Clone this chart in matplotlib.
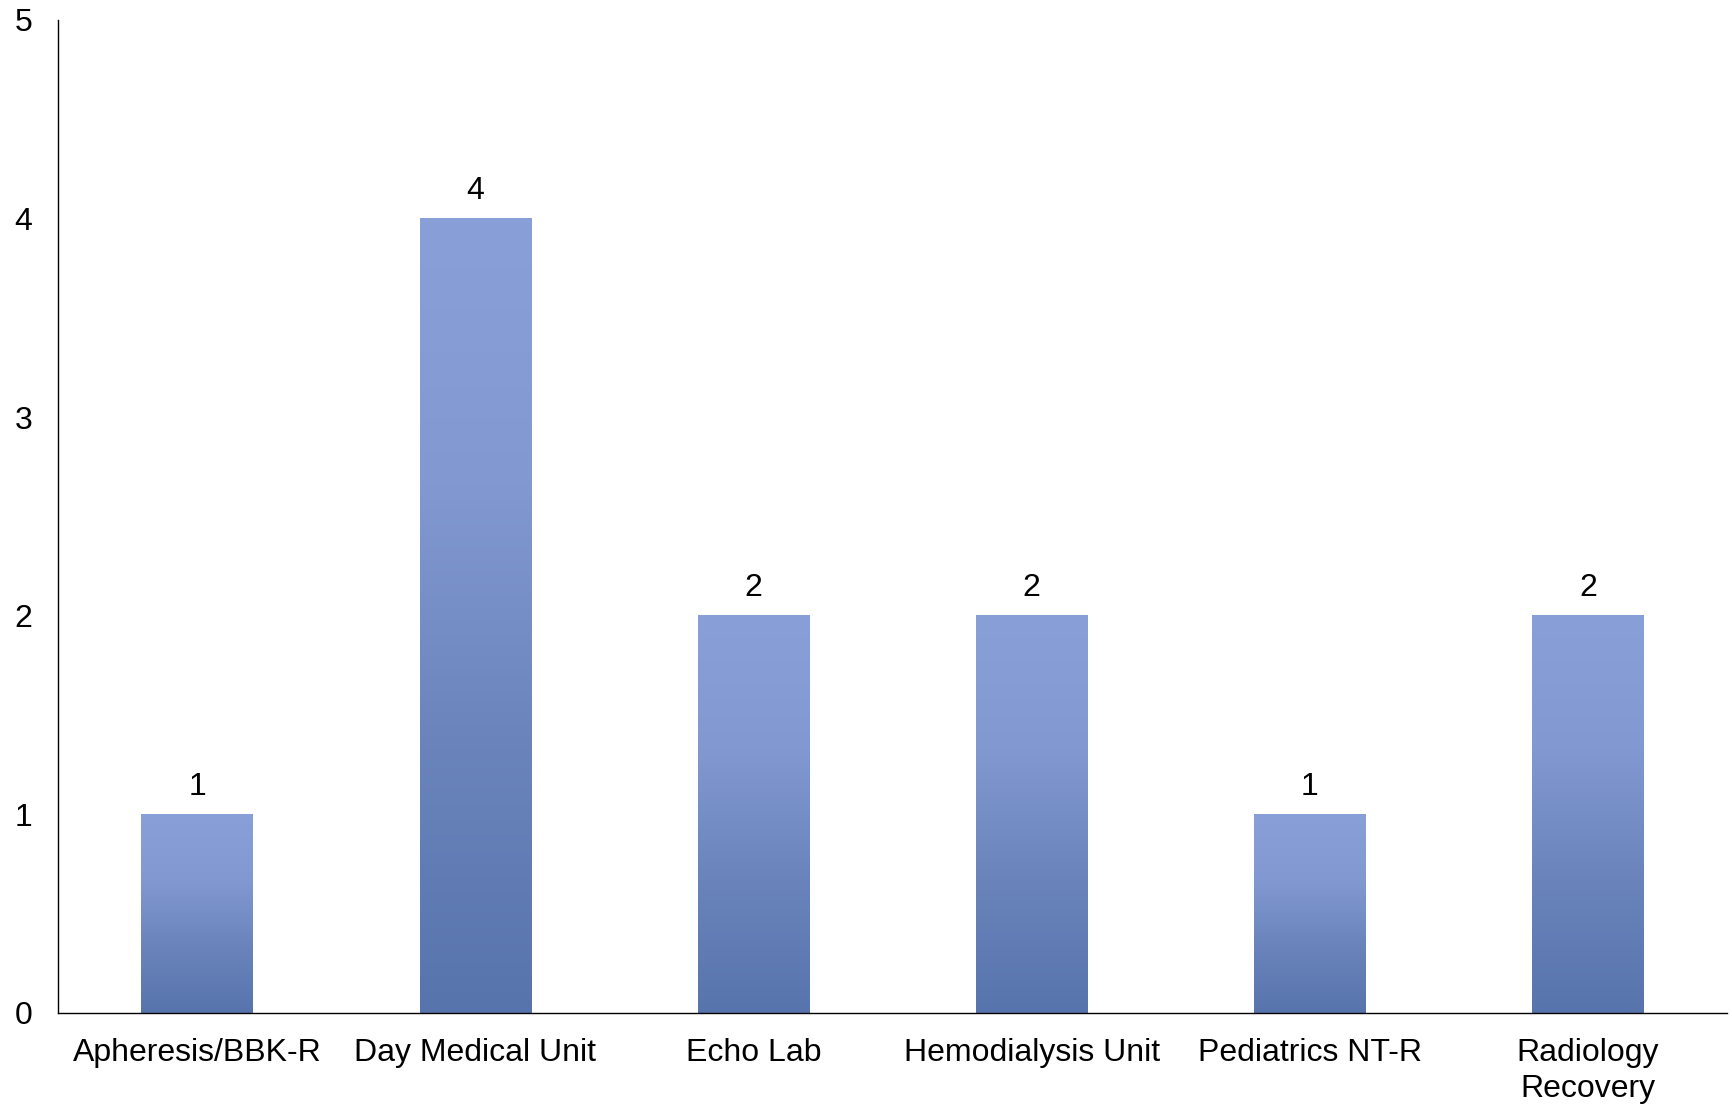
import numpy as np
import matplotlib
matplotlib.use("Agg")
import matplotlib.pyplot as plt
from matplotlib.colors import LinearSegmentedColormap

plt.rcParams['font.family'] = ['Liberation Sans', 'DejaVu Sans']

units = ["Apheresis/BBK-R", "Day Medical Unit", "Echo Lab",
         "Hemodialysis Unit", "Pediatrics NT-R", "Radiology\nRecovery"]
counts = [1, 4, 2, 2, 1, 2]
y_ticks = [0, 1, 2, 3, 4, 5]

# light at top, darker at bottom (like the Excel gradient fill)
grad = LinearSegmentedColormap.from_list(
    "bar", ["#5874ad", "#6a84bb", "#8199d0", "#899fd8"])

fig = plt.figure(figsize=(17.33, 11.05), dpi=100)
ax = fig.add_axes([58 / 1733, 1 - 1013 / 1105, 1669 / 1733, 993 / 1105])

x = np.arange(len(units))
width = 0.40
bars = ax.bar(x, counts, width=width, color="none", edgecolor="none")
g = np.linspace(0, 1, 256).reshape(-1, 1)
for b in bars:
    x0, y0 = b.get_x(), b.get_y()
    ax.imshow(g, cmap=grad, origin="lower", aspect="auto",
              extent=[x0, x0 + b.get_width(), y0, y0 + b.get_height()],
              interpolation="bicubic", zorder=2)

for xi, v in zip(x, counts):
    ax.annotate(str(v), (xi, v), xytext=(0, 20), textcoords="offset points",
                ha="center", va="center", fontsize=23)

ax.set_xlim(-0.5, len(units) - 0.5)
ax.set_ylim(0, 5)
ax.set_yticks(y_ticks)
ax.set_xticks(x)
ax.set_xticklabels(units, fontsize=23, linespacing=1.25)
ax.tick_params(axis="both", length=0, labelsize=23)
ax.tick_params(axis="y", pad=25)
ax.tick_params(axis="x", pad=18)
for lab in ax.get_yticklabels():
    lab.set_horizontalalignment("center")
for s in ["top", "right"]:
    ax.spines[s].set_visible(False)
ax.spines["left"].set_linewidth(1.0)
ax.spines["bottom"].set_linewidth(1.0)

fig.savefig("out.png", dpi=100)
